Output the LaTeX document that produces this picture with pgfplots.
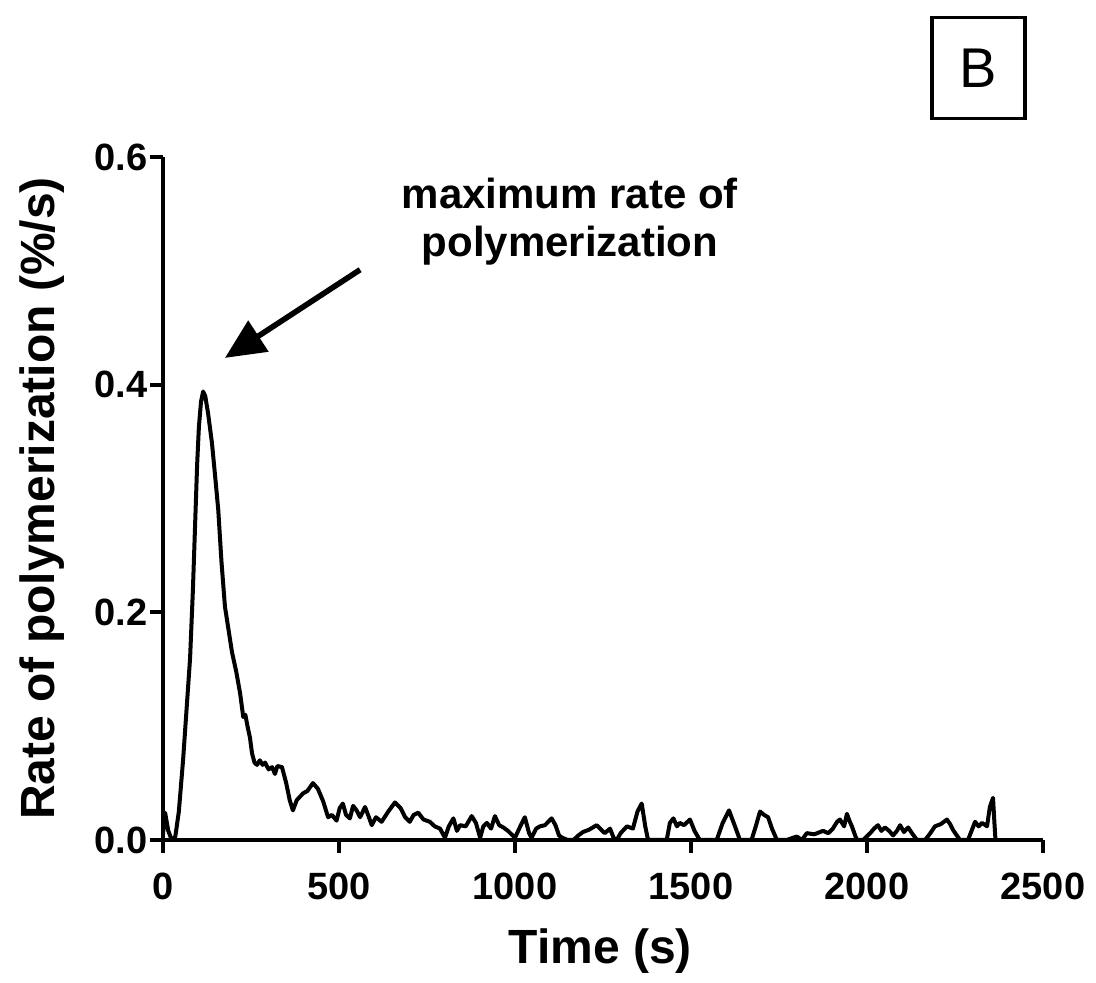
\documentclass[border=0pt]{standalone}
\usepackage{fontspec}
\setmainfont{Liberation Sans}
\usepackage{pgfplots}
\pgfplotsset{compat=1.18}
\usetikzlibrary{arrows.meta}
\begin{document}
\begin{tikzpicture}
\begin{axis}[name=ax,
  scale only axis, width=440pt, height=341.5pt,
  xmin=0, xmax=2500, ymin=0, ymax=0.6,
  axis lines*=left,
  axis line style={line width=2pt},
  every tick/.style={line width=2pt, black},
  tick align=outside, major tick length=6.5pt,
  xtick={0,500,1000,1500,2000,2500},
  ytick={0,0.2,0.4,0.6},
  /pgf/number format/assume math mode=true,
  /pgf/number format/1000 sep={},
  yticklabel style={/pgf/number format/fixed, /pgf/number format/fixed zerofill, /pgf/number format/precision=1, inner sep=1pt},
  ticklabel style={font=\bfseries\fontsize{19}{23}\selectfont},
  xticklabel style={yshift=-6.5pt},
  xlabel={Time (s)},
  ylabel={Rate of polymerization (\%/s)},
  label style={font=\bfseries\fontsize{24}{28}\selectfont},
  xlabel style={at={(axis description cs:0.497,-0.163)}, anchor=center},
  ylabel style={at={(axis description cs:-0.1375,0.5)}, anchor=center},
  clip=false,
]
\addplot[black, line width=2pt, line join=round] coordinates {
(0,0.005) (6,0.024) (15,0.008) (25,0.0) (35,0.003) (45,0.025) (57,0.07) (67,0.115) (77,0.16) (85,0.22) (91,0.275) (97,0.33) (102,0.363) (108,0.385) (114,0.394) (120,0.39) (128,0.375) (139,0.349) (148,0.32) (157,0.29) (166,0.245) (176,0.205) (186,0.185) (196,0.165) (208,0.148) (219,0.129) (228,0.108) (234,0.11) (240,0.1) (247,0.09) (253,0.076) (260,0.068) (267,0.066) (275,0.070) (283,0.066) (290,0.068) (300,0.062) (310,0.064) (318,0.058) (325,0.065) (338,0.064) (350,0.05) (360,0.035) (369,0.026) (380,0.035) (398,0.041) (410,0.043) (426,0.050) (440,0.045) (455,0.034) (469,0.02) (480,0.022) (493,0.017) (502,0.028) (511,0.032) (520,0.022) (531,0.019) (540,0.03) (550,0.026) (560,0.02) (574,0.029) (585,0.02) (593,0.013) (605,0.02) (621,0.016) (640,0.025) (659,0.033) (675,0.028) (688,0.02) (701,0.016) (712,0.022) (725,0.024) (740,0.018) (758,0.016) (772,0.012) (787,0.01) (801,0.002) (812,0.012) (825,0.019) (835,0.008) (844,0.013) (860,0.012) (877,0.021) (889,0.015) (901,0.002) (910,0.012) (920,0.015) (932,0.01) (943,0.021) (955,0.013) (967,0.011) (980,0.008) (990,0.005) (1000,0.002) (1015,0.012) (1028,0.02) (1040,0.006) (1047,0.002) (1060,0.01) (1071,0.012) (1085,0.013) (1104,0.019) (1115,0.013) (1125,0.004) (1134,0.002) (1150,0.0) (1166,0.0) (1180,0.004) (1193,0.007) (1210,0.009) (1232,0.013) (1245,0.009) (1255,0.006) (1270,0.01) (1280,0.002) (1289,0.0) (1300,0.006) (1318,0.012) (1335,0.01) (1348,0.025) (1360,0.032) (1370,0.012) (1378,0.0) (1400,0.0) (1431,0.0) (1440,0.015) (1450,0.019) (1460,0.012) (1468,0.015) (1480,0.013) (1497,0.018) (1510,0.008) (1525,0.0) (1550,0.0) (1573,0.0) (1590,0.015) (1608,0.026) (1625,0.012) (1639,0.0) (1655,0.0) (1672,0.0) (1684,0.012) (1696,0.025) (1708,0.022) (1719,0.02) (1730,0.01) (1744,0.0) (1772,0.0) (1790,0.002) (1801,0.003) (1815,0.0) (1829,0.006) (1850,0.005) (1875,0.008) (1890,0.006) (1903,0.01) (1915,0.016) (1923,0.018) (1935,0.012) (1943,0.023) (1950,0.017) (1957,0.012) (1971,0.0) (1989,0.0) (2009,0.006) (2020,0.01) (2031,0.013) (2041,0.008) (2051,0.011) (2063,0.008) (2074,0.004) (2085,0.008) (2094,0.013) (2105,0.007) (2117,0.011) (2130,0.005) (2142,0.0) (2165,0.0) (2180,0.006) (2193,0.012) (2210,0.014) (2227,0.018) (2236,0.014) (2244,0.009) (2264,0.0) (2287,0.0) (2297,0.008) (2307,0.016) (2317,0.012) (2327,0.015) (2341,0.012) (2349,0.029) (2358,0.037) (2362,0.015) (2365,0.0)
};
\node[align=center, font=\bfseries\fontsize{21}{24}\selectfont] at (axis cs:1156,0.543) {maximum rate of\\polymerization};
\draw[line width=2.8pt, -{Triangle[length=20pt,width=18pt]}] (axis cs:560,0.501) -- (axis cs:176,0.4235);
\node[draw, line width=1.6pt, minimum width=46.5pt, minimum height=50.5pt, inner sep=0pt, font=\fontsize{28}{30}\selectfont] at (axis cs:2317,0.678) {B};
\end{axis}
\pgfresetboundingbox
\path[use as bounding box] (ax.south west) ++(-81.5pt,-71.5pt) rectangle ++(548pt,491.5pt);
\end{tikzpicture}
\end{document}
